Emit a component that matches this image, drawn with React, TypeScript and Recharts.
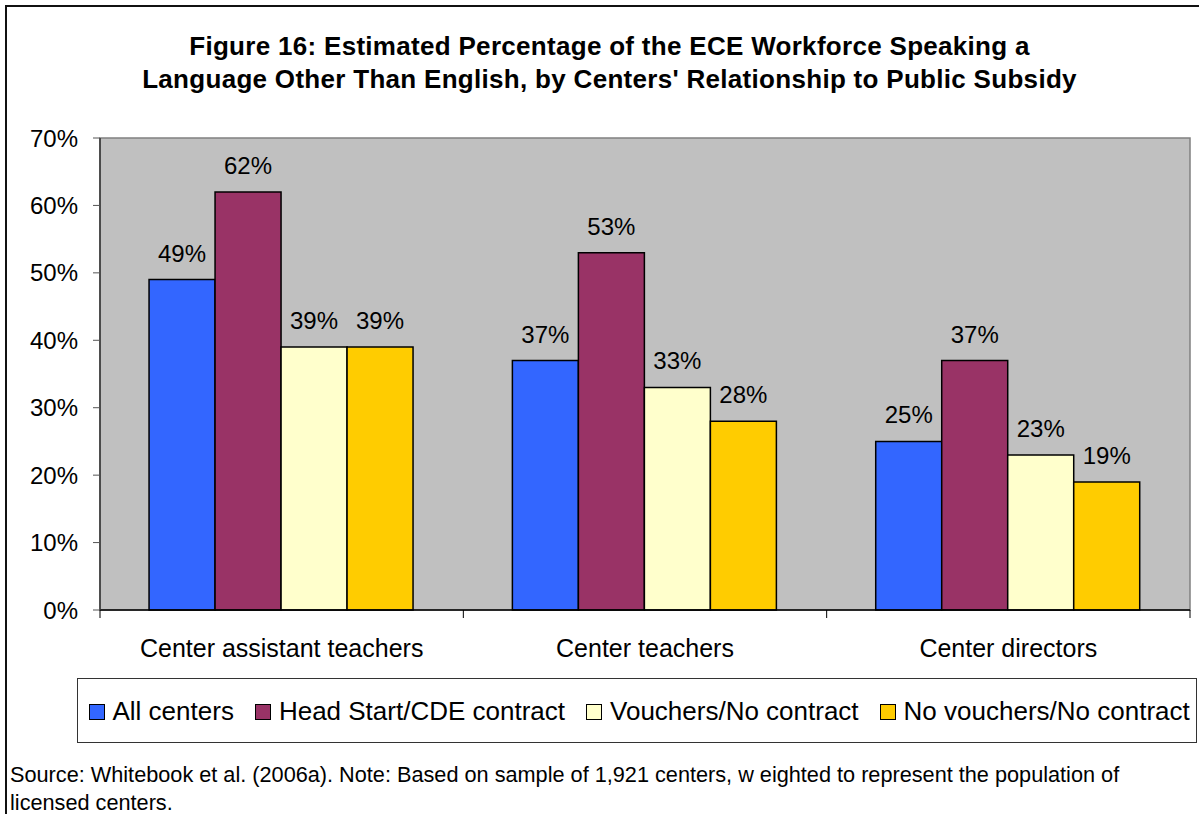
import React from 'react';
import { BarChart, Bar, XAxis, YAxis, LabelList, ReferenceArea } from 'recharts';

const categories = ['Center assistant teachers', 'Center teachers', 'Center directors'];
const allCenters = [49, 37, 25];
const headStart = [62, 53, 37];
const vouchers = [39, 33, 23];
const noVouchers = [39, 28, 19];
const yTicks = [0, 10, 20, 30, 40, 50, 60, 70];

const seriesDefs = [
  { key: 'allCenters', name: 'All centers', color: '#3366FF' },
  { key: 'headStart', name: 'Head Start/CDE contract', color: '#993366' },
  { key: 'vouchers', name: 'Vouchers/No contract', color: '#FFFFCC' },
  { key: 'noVouchers', name: 'No vouchers/No contract', color: '#FFCC00' },
];

const data = categories.map((name, i) => ({
  name,
  allCenters: allCenters[i],
  headStart: headStart[i],
  vouchers: vouchers[i],
  noVouchers: noVouchers[i],
}));

const FONT = '"Liberation Sans", Arial, sans-serif';
const CHART_W = 1199;
const CHART_H = 680;
const MARGIN = { top: 138, right: 9, left: 10, bottom: 0 };
const Y_AXIS_W = 90;
const HALF_BAND = (CHART_W - MARGIN.left - Y_AXIS_W - MARGIN.right) / categories.length / 2;

function CategoryTick(props: any) {
  const { x, y, payload, index } = props;
  const last = index === categories.length - 1;
  return (
    <g>
      <line x1={x - HALF_BAND} x2={x - HALF_BAND} y1={y} y2={y + 8} stroke="#000" />
      {last && <line x1={x + HALF_BAND} x2={x + HALF_BAND} y1={y} y2={y + 8} stroke="#000" />}
      <text x={x} y={y + 47} textAnchor="middle" fontSize={25} fill="#000" fontFamily={FONT}>
        {payload.value}
      </text>
    </g>
  );
}

export default function App() {
  return (
    <div
      style={{
        position: 'absolute',
        left: 0,
        top: 0,
        width: 1199,
        height: 814,
        overflow: 'hidden',
        background: '#fff',
        fontFamily: FONT,
      }}
    >
      {/* outer frame */}
      <div
        style={{
          position: 'absolute',
          left: 5,
          top: 5,
          width: 1400,
          height: 1000,
          border: '2px solid #111',
        }}
      />
      <div
        style={{
          position: 'absolute',
          left: 10,
          top: 30,
          width: 1199,
          textAlign: 'center',
          fontWeight: 'bold',
          fontSize: 26,
          letterSpacing: 0.3,
          lineHeight: '33px',
          color: '#000',
        }}
      >
        Figure 16: Estimated Percentage of the ECE Workforce Speaking a
        <br />
        Language Other Than English, by Centers' Relationship to Public Subsidy
      </div>

      <div style={{ position: 'absolute', left: 0, top: 0 }}>
        <BarChart
          width={CHART_W}
          height={CHART_H}
          data={data}
          margin={MARGIN}
          barCategoryGap="13.5%"
          barGap={0}
        >
          <ReferenceArea
            x1={categories[0]}
            x2={categories[categories.length - 1]}
            y1={0}
            y2={70}
            fill="#C0C0C0"
            fillOpacity={1}
            stroke="#808080"
            strokeWidth={1.5}
          />
          <XAxis
            dataKey="name"
            interval={0}
            tickLine={false}
            tickSize={0}
            tickMargin={0}
            height={CHART_H - 610}
            axisLine={{ stroke: '#000', strokeWidth: 1.5 }}
            tick={<CategoryTick />}
          />
          <YAxis
            width={Y_AXIS_W}
            domain={[0, 70]}
            ticks={yTicks}
            tickFormatter={(v) => `${v}%`}
            tickSize={7}
            tickMargin={15}
            tickLine={{ stroke: '#555' }}
            axisLine={{ stroke: '#333', strokeWidth: 1.5 }}
            tick={{ fontSize: 24, fill: '#000', fontFamily: FONT }}
          />
          {seriesDefs.map((s) => (
            <Bar
              key={s.key}
              dataKey={s.key}
              name={s.name}
              fill={s.color}
              stroke="#000"
              strokeWidth={1.5}
              isAnimationActive={false}
            >
              <LabelList
                dataKey={s.key}
                position="top"
                offset={18}
                formatter={(v: any) => `${v}%`}
                style={{ fontSize: 24, fill: '#000', fontFamily: FONT }}
              />
            </Bar>
          ))}
        </BarChart>
      </div>

      {/* legend */}
      <div
        style={{
          position: 'absolute',
          left: 77,
          top: 678,
          width: 1120,
          height: 65,
          boxSizing: 'border-box',
          border: '1.5px solid #333',
          display: 'flex',
          alignItems: 'center',
          paddingLeft: 10.5,
          paddingTop: 2,
          gap: 21,
          fontSize: 26,
          color: '#000',
          whiteSpace: 'nowrap',
        }}
      >
        {seriesDefs.map((s) => (
          <div key={s.key} style={{ display: 'flex', alignItems: 'center' }}>
            <span
              style={{
                display: 'inline-block',
                boxSizing: 'border-box',
                width: 16,
                height: 16,
                background: s.color,
                border: '1.5px solid #000',
                marginRight: 8,
              }}
            />
            <span>{s.name}</span>
          </div>
        ))}
      </div>

      <div
        style={{
          position: 'absolute',
          left: 10,
          top: 761,
          fontSize: 21.7,
          lineHeight: '28px',
          color: '#000',
          whiteSpace: 'nowrap',
        }}
      >
        Source: Whitebook et al. (2006a). Note: Based on sample of 1,921 centers, w eighted to represent the population of
        <br />
        licensed centers.
      </div>
    </div>
  );
}
